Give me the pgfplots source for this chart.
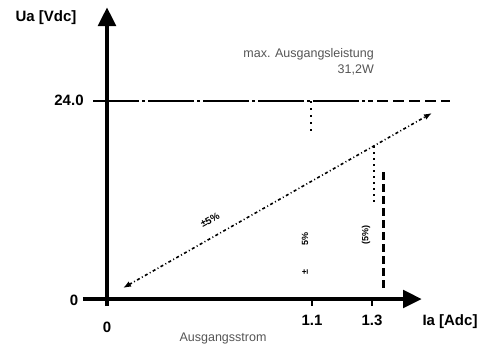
\documentclass[border=0pt]{standalone}
\usepackage{pgfplots}
\pgfplotsset{compat=1.18}
\usetikzlibrary{arrows.meta}
\usepackage{fontspec}
\setmainfont{Liberation Sans}
\definecolor{txtgray}{HTML}{555555}

\begin{document}
\begin{tikzpicture}
\begin{axis}[
    x=100pt, y=100pt,
    xmin=-0.24, xmax=3.15,
    ymin=-0.07, ymax=2.92,
    axis lines=middle,
    axis line style={line width=4.8pt, -{Triangle[length=19pt,width=17pt]}},
    xtick=\empty, ytick=\empty,
    clip=false,
]
% 24 V limit line
\addplot[line width=2.6pt, dash pattern=on 46pt off 3pt on 3pt off 3pt]
    coordinates {(-0.14,1.98) (2.66,1.98)};
\addplot[line width=2.6pt, dash pattern=on 11pt off 5pt]
    coordinates {(2.70,1.98) (3.43,1.98)};
% output characteristic
\addplot[line width=1.6pt, dash pattern=on 3pt off 2.5pt on 1pt off 2.5pt,
    {Latex[length=8pt,width=6pt]}-{Latex[length=8pt,width=6pt]}]
    coordinates {(0.16,0.11) (3.25,1.86)};
% 1.1 A marker
\addplot[line width=2pt, dash pattern=on 2pt off 5pt]
    coordinates {(2.04,1.98) (2.04,1.68)};
% 1.3 A markers
\addplot[line width=1.8pt, dash pattern=on 2pt off 4pt]
    coordinates {(2.67,1.53) (2.67,0.94)};
\addplot[line width=3pt, dash pattern=on 8pt off 4pt]
    coordinates {(2.76,1.27) (2.76,0.09)};
% small ticks under the x axis
\addplot[line width=1.5pt] coordinates {(2.05,-0.02) (2.05,-0.07)};
\addplot[line width=1.5pt] coordinates {(2.65,-0.02) (2.65,-0.07)};

% axis texts
\node[font=\fontsize{15}{17}\bfseries\selectfont] at (axis cs:-0.61,2.81) {Ua [Vdc]};
\node[font=\fontsize{15}{17}\bfseries\selectfont] at (axis cs:3.43,-0.23) {Ia [Adc]};
\node[font=\fontsize{15}{17}\bfseries\selectfont] at (axis cs:-0.33,-0.01) {0};
\node[font=\fontsize{15}{17}\bfseries\selectfont] at (axis cs:-0.38,1.99) {24.0};
\node[font=\fontsize{15}{17}\bfseries\selectfont] at (axis cs:0,-0.28) {0};
\node[font=\fontsize{15}{17}\bfseries\selectfont] at (axis cs:2.05,-0.21) {1.1};
\node[font=\fontsize{15}{17}\bfseries\selectfont] at (axis cs:2.65,-0.21) {1.3};

% descriptions
\node[font=\fontsize{12.5}{14}\selectfont, text=txtgray] at (axis cs:1.16,-0.39) {Ausgangsstrom};
\node[font=\fontsize{12.5}{14}\selectfont, text=txtgray, anchor=east, inner sep=0pt]
    at (axis cs:2.67,2.45) {max. Ausgangsleistung};
\node[font=\fontsize{12.5}{14}\selectfont, text=txtgray, anchor=east, inner sep=0pt]
    at (axis cs:2.67,2.29) {31,2W};

% small (scanned) annotations
\node[font=\fontsize{10}{11}\bfseries\selectfont, rotate=29, inner sep=0pt]
    at (axis cs:1.03,0.79) {±5\%};
\node[font=\fontsize{9}{10}\bfseries\selectfont, rotate=90, inner sep=0pt]
    at (axis cs:1.98,0.60) {5\%};
\node[font=\fontsize{9}{10}\bfseries\selectfont, rotate=90, inner sep=0pt]
    at (axis cs:1.98,0.27) {±};
\node[font=\fontsize{9}{10}\bfseries\selectfont, rotate=90, inner sep=0pt]
    at (axis cs:2.59,0.64) {(5\%)};

\coordinate (bl) at (axis cs:-1.07,-0.47);
\coordinate (tr) at (axis cs:3.79,2.99);
\end{axis}
\pgfresetboundingbox
\path[use as bounding box] (bl) rectangle (tr);
\end{tikzpicture}
\end{document}
